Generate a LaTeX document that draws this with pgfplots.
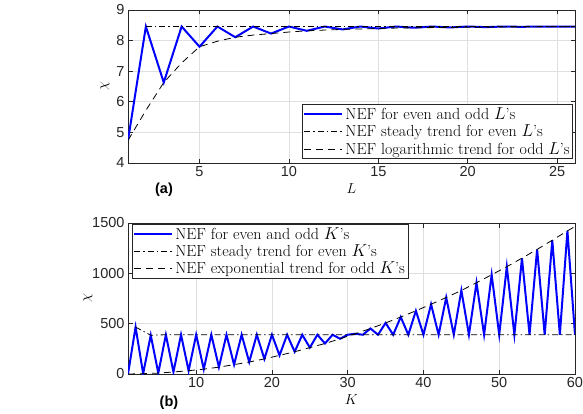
\documentclass[border=0pt]{standalone}
\usepackage{fontspec}
\usepackage{pgfplots}
\pgfplotsset{compat=1.18}
\newfontfamily\arial{Liberation Sans}
\definecolor{axgray}{RGB}{38,38,38}
\definecolor{gridgray}{RGB}{223,223,223}

\pgfplotsset{
  nefaxis/.style={
    scale only axis, width=447pt, anchor=south west,
    axis line style={axgray, line width=0.6pt},
    tick style={axgray, line width=0.6pt}, major tick length=4.5pt,
    grid=major, grid style={gridgray, line width=0.6pt},
    ticklabel style={font=\fontsize{14.5}{16}\selectfont\arial, text=axgray},
    /pgf/number format/assume math mode=true,
    /pgf/number format/1000 sep={},
    label style={font=\fontsize{15}{18}\selectfont},
    xlabel style={at={(axis description cs:0.5,0)}, anchor=center, yshift=-26pt},
    legend cell align=left,
    legend style={font=\fontsize{16}{19}\selectfont, draw=axgray, line width=0.6pt,
      inner sep=1pt, row sep=0pt},
    legend image code/.code={\draw[##1] (0pt,0pt) -- (38pt,0pt);},
  },
  nef/.style={blue, line width=2pt},
  steady/.style={black, line width=0.8pt, dash pattern=on 6pt off 3pt on 1.5pt off 3pt},
  trend/.style={black, line width=0.8pt, dash pattern=on 7pt off 5pt},
}

\begin{document}
\begin{tikzpicture}
\useasboundingbox (0,0) rectangle (583pt,413pt);

% (a) NEF versus L
\begin{axis}[nefaxis, name=topax, at={(128pt,250pt)}, height=153pt,
  xmin=1, xmax=26, ymin=4, ymax=9,
  xtick={5,10,15,20,25}, ytick={4,5,6,7,8,9},
  xlabel={$L$}, ylabel={$\chi$},
  ylabel style={at={(axis description cs:-0.0515,0.5)}, anchor=center},
  legend style={at={(axis description cs:1,0)}, anchor=south east, xshift=-2pt, yshift=4pt},
]
\addplot [nef] table {%
1 4.74
2 8.46
3 6.63
4 8.46
5 7.80
6 8.46
7 8.11
8 8.46
9 8.23
10 8.46
11 8.32
12 8.46
13 8.365
14 8.46
15 8.395
16 8.46
17 8.42
18 8.46
19 8.43
20 8.46
21 8.44
22 8.46
23 8.45
24 8.46
25 8.455
26 8.46
};
\addplot [steady] table {%
2 8.46
26 8.46
};
\addplot [trend] table {%
1 4.74
2 5.72
3 6.63
4 7.27
5 7.80
6 7.98
7 8.11
8 8.18
9 8.23
10 8.28
11 8.32
12 8.345
13 8.365
14 8.38
15 8.395
16 8.41
17 8.42
18 8.425
19 8.43
20 8.435
21 8.44
22 8.445
23 8.45
24 8.452
25 8.455
26 8.457
};
\legend{NEF for even and odd $L$'s, NEF steady trend for even $L$'s, NEF logarithmic trend for odd $L$'s}
\end{axis}
\node[font=\fontsize{14.5}{16}\selectfont\arial\bfseries] at ([xshift=36pt,yshift=-27pt]topax.south west) {(a)};

% (b) NEF versus K
\begin{axis}[nefaxis, name=botax, at={(128pt,39pt)}, height=151pt,
  xmin=1, xmax=60, ymin=0, ymax=1500,
  xtick={10,20,30,40,50,60}, ytick={0,500,1000,1500},
  xlabel={$K$}, ylabel={$\chi$},
  ylabel style={at={(axis description cs:-0.0895,0.5)}, anchor=center},
  legend style={at={(axis description cs:0,1)}, anchor=north west, xshift=4pt, yshift=-1pt},
]
\addplot [nef] table {%
1 0
2 466
3 3
4 385
5 9
6 390
7 20
8 390
9 33
10 390
11 48
12 390
13 68
14 390
15 93
16 390
17 119
18 390
19 150
20 390
21 185
22 390
23 221
24 390
25 262
26 390
27 303
28 390
29 350
30 390
31 400
32 390
33 452
34 390
35 507
36 390
37 566
38 390
39 628
40 390
41 693
42 390
43 760
44 390
45 830
46 390
47 907
48 390
49 986
50 390
51 1066
52 390
53 1151
54 390
55 1238
56 390
57 1329
58 390
59 1422
60 390
};
\addplot [steady] table {%
2 466
4 385
6 390
60 390
};
\addplot [trend] table {%
1 0
3 3
5 9
7 20
9 33
11 48
13 68
15 93
17 119
19 150
21 185
23 221
25 262
27 303
29 350
31 400
33 452
35 507
37 566
39 628
41 693
43 760
45 830
47 907
49 986
51 1066
53 1151
55 1238
57 1329
59 1422
60 1465
};
\legend{NEF for even and odd $K$'s, NEF steady trend for even $K$'s, NEF exponential trend for odd $K$'s}
\end{axis}
\node[font=\fontsize{14.5}{16}\selectfont\arial\bfseries] at ([xshift=41pt,yshift=-29pt]botax.south west) {(b)};
\end{tikzpicture}
\end{document}
